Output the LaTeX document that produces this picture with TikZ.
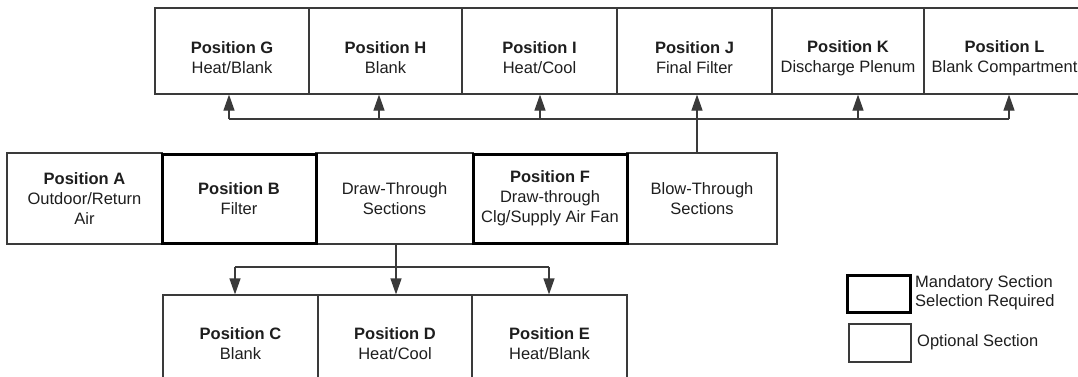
\documentclass[tikz,border=0pt]{standalone}
\usepackage{fontspec}
\setmainfont{Liberation Sans}
\usetikzlibrary{arrows.meta}
\definecolor{ln}{HTML}{3A3A3A}
\definecolor{tx}{HTML}{1E1E1E}
\newcommand{\toppad}{\rule{0pt}{26pt}}
\begin{document}
\begin{tikzpicture}[x=1pt,y=-1pt,
  box/.style={draw=ln,line width=1.2pt,inner sep=0pt,align=center,text=tx,
    font=\fontsize{16.5}{20}\selectfont},
  mand/.style={box,draw=black,line width=3pt},
  arr/.style={draw=ln,line width=1.2pt,-{Triangle[length=16pt,width=11pt]}},
  con/.style={draw=ln,line width=1.2pt},
  leg/.style={inner sep=0pt,align=left,text=tx,font=\fontsize{16.5}{19}\selectfont,anchor=west}]
\clip (0,0) rectangle (1078,376);
% top row
\node[box,minimum width=154pt,minimum height=86pt] (G) at (232,51) {\toppad\textbf{Position G}\\Heat/Blank};
\node[box,minimum width=153pt,minimum height=86pt] (H) at (385.5,51) {\toppad\textbf{Position H}\\Blank};
\node[box,minimum width=155pt,minimum height=86pt] (I) at (539.5,51) {\toppad\textbf{Position I}\\Heat/Cool};
\node[box,minimum width=155pt,minimum height=86pt] (J) at (694.5,51) {\toppad\textbf{Position J}\\Final Filter};
\node[box,minimum width=152pt,minimum height=86pt] (K) at (848,51) {\toppad\textbf{Position K}\\Discharge Plenum};
\node[box,minimum width=161pt,minimum height=86pt] (L) at (1004.5,51) {\toppad\textbf{Position L}\\Blank Compartment};
% middle row
\node[box,minimum width=155pt,minimum height=91pt] (A) at (84.5,198.5) {\textbf{Position A}\\Outdoor/Return\\Air};
\node[box,minimum width=157pt,minimum height=91pt] (DT) at (394.5,198.5) {Draw-Through\\Sections};
\node[box,minimum width=150pt,minimum height=91pt] (BT) at (702,198.5) {Blow-Through\\Sections};
\node[mand,minimum width=154pt,minimum height=89pt] (B) at (239,198.5) {\textbf{Position B}\\Filter};
\node[mand,minimum width=154pt,minimum height=89pt] (F) at (550,198.5) {\textbf{Position F}\\Draw-through\\Clg/Supply Air Fan};
% bottom row
\node[box,minimum width=155pt,minimum height=98pt] (C) at (240.5,344) {\textbf{Position C}\\Blank};
\node[box,minimum width=154pt,minimum height=98pt] (D) at (395,344) {\textbf{Position D}\\Heat/Cool};
\node[box,minimum width=155pt,minimum height=98pt] (E) at (549.5,344) {\textbf{Position E}\\Heat/Blank};
% top connectors
\coordinate (bG) at (229,119);
\coordinate (bH) at (379,119);
\coordinate (bI) at (540,119);
\coordinate (bJ) at (697,119);
\coordinate (bK) at (858,119);
\coordinate (bL) at (1009,119);
\draw[con] (bG) -- (bL);
\draw[arr] (bJ |- BT.north) -- (bJ |- J.south);
\foreach \n/\b in {G/bG,H/bH,I/bI,K/bK,L/bL}
  \draw[arr] (\b) -- (\b |- \n.south);
% bottom connectors
\coordinate (bC) at (235,267);
\coordinate (bD) at (396,267);
\coordinate (bE) at (549,267);
\draw[con] (bC) -- (bE);
\draw[arr] (bD |- DT.south) -- (bD |- D.north);
\draw[arr] (bC) -- (bC |- C.north);
\draw[arr] (bE) -- (bE |- E.north);
% legend
\node[mand,minimum width=63pt,minimum height=37pt] (LM) at (878.5,293.5) {};
\node[box,minimum width=62pt,minimum height=38pt] (LO) at (880,343) {};
\node[leg] (LMt) at (915,293) {Mandatory Section\\Selection Required};
\node[leg] (LOt) at (917,342) {Optional Section};
\end{tikzpicture}
\end{document}
